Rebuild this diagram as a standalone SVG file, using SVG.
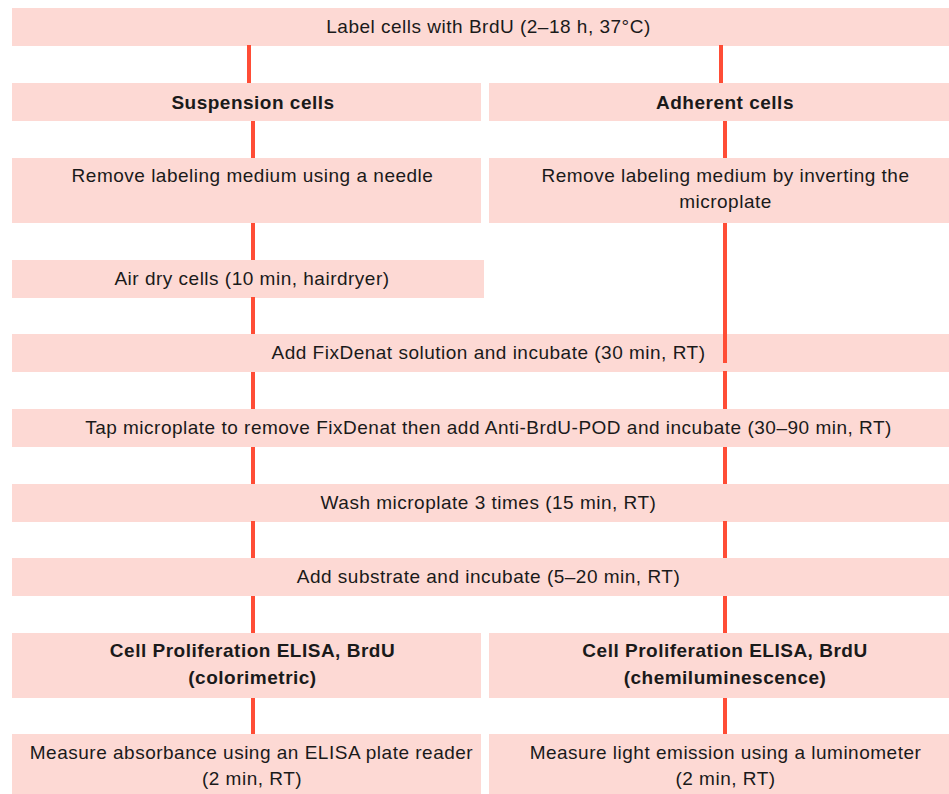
<svg xmlns="http://www.w3.org/2000/svg" width="949" height="794" viewBox="0 0 949 794">
<style>
.box{fill:#FDD9D4}
.t{font-family:"Liberation Sans",Arial,sans-serif;font-size:19px;letter-spacing:0.5px;fill:#1a1a1a;text-anchor:middle}
.b{font-weight:bold}
.ln{stroke:#FF4D36;stroke-width:4;fill:none}
</style>
<rect width="949" height="794" fill="#ffffff"/>
<g id="n1"><rect class="box" x="12" y="8" width="953" height="38"/><text class="t" x="488.5" y="33">Label cells with BrdU (2–18 h, 37°C)</text></g>
<g id="n2"><rect class="box" x="12" y="83" width="469" height="38"/><text class="t b" x="253" y="109">Suspension cells</text></g>
<g id="n3"><rect class="box" x="489" y="83" width="476" height="38"/><text class="t b" x="725" y="109">Adherent cells</text></g>
<g id="n4"><rect class="box" x="12" y="158" width="469" height="65"/><text class="t" x="252.5" y="182">Remove labeling medium using a needle</text></g>
<g id="n5"><rect class="box" x="489" y="158" width="476" height="65"/><text class="t" x="725.5" y="182">Remove labeling medium by inverting the</text><text class="t" x="725.5" y="208">microplate</text></g>
<g id="n6"><rect class="box" x="12" y="260" width="472" height="38"/><text class="t" x="252" y="285">Air dry cells (10 min, hairdryer)</text></g>
<g id="n7"><rect class="box" x="12" y="334" width="953" height="38"/><text class="t" x="488.5" y="359">Add FixDenat solution and incubate (30 min, RT)</text></g>
<g id="n8"><rect class="box" x="12" y="409" width="953" height="38"/><text class="t" x="488.5" y="434">Tap microplate to remove FixDenat then add Anti-BrdU-POD and incubate (30–90 min, RT)</text></g>
<g id="n9"><rect class="box" x="12" y="484" width="953" height="38"/><text class="t" x="488.5" y="509">Wash microplate 3 times (15 min, RT)</text></g>
<g id="n10"><rect class="box" x="12" y="558" width="953" height="38"/><text class="t" x="488.5" y="583">Add substrate and incubate (5–20 min, RT)</text></g>
<g id="n11"><rect class="box" x="12" y="633" width="469" height="65"/><text class="t b" x="252.5" y="657">Cell Proliferation ELISA, BrdU</text><text class="t b" x="252.5" y="684">(colorimetric)</text></g>
<g id="n12"><rect class="box" x="489" y="633" width="476" height="65"/><text class="t b" x="725" y="657">Cell Proliferation ELISA, BrdU</text><text class="t b" x="725" y="684">(chemiluminescence)</text></g>
<g id="n13"><rect class="box" x="12" y="734" width="469" height="65"/><text class="t" x="251.5" y="759">Measure absorbance using an ELISA plate reader</text><text class="t" x="252" y="785">(2 min, RT)</text></g>
<g id="n14"><rect class="box" x="489" y="734" width="476" height="65"/><text class="t" x="725.5" y="759">Measure light emission using a luminometer</text><text class="t" x="725.5" y="785">(2 min, RT)</text></g>
<g id="connectors">
<path class="ln" d="M249 45V83M721 45V83"/>
<path class="ln" d="M253 121V158M253 223V260M253 297V334M253 372V409M253 447V484M253 521V558M253 596V633M253 698V734"/>
<path class="ln" d="M725 121V158M725 223V363M725 371V409M725 447V484M725 521V558M725 596V633M725 698V734"/>
</g>
</svg>
